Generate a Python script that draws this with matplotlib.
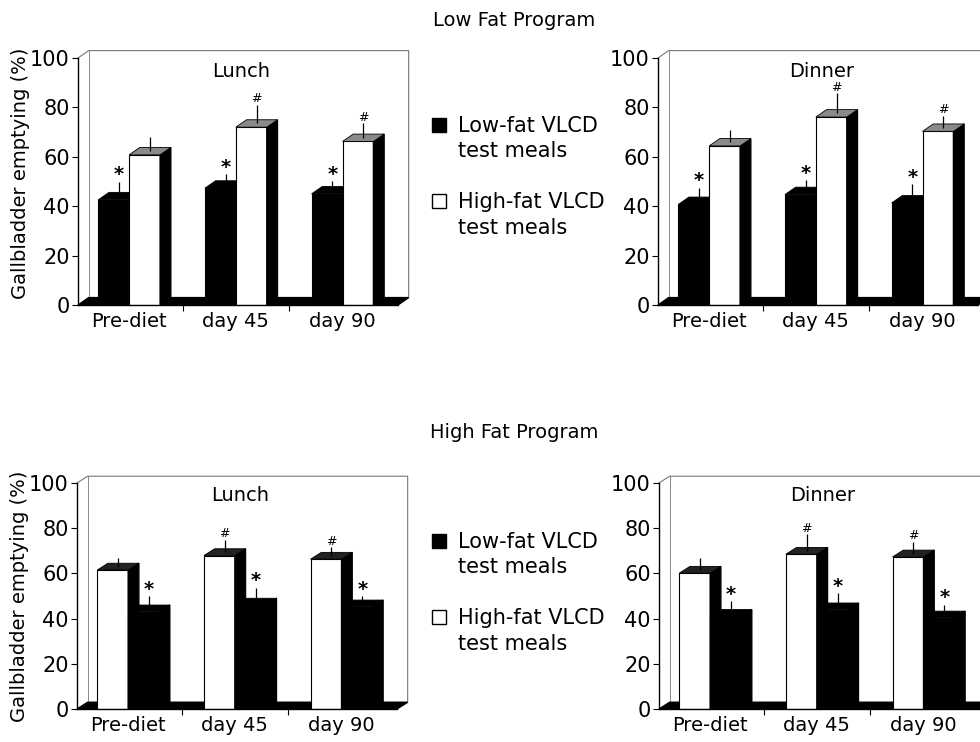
import matplotlib
matplotlib.use('Agg')
import matplotlib.pyplot as plt
from matplotlib.patches import Patch

# data (gallbladder emptying, %)
categories = ['Pre-diet', 'day 45', 'day 90']

# Low fat program (left bar = low-fat meal, right bar = high-fat meal)
lowprog_lunch_lowfat = [42.6, 47.3, 45.0]
lowprog_lunch_lowfat_err = [5.9, 4.3, 3.8]
lowprog_lunch_highfat = [60.8, 72.0, 66.2]
lowprog_lunch_highfat_err = [5.7, 7.6, 5.9]

lowprog_dinner_lowfat = [40.7, 44.7, 41.3]
lowprog_dinner_lowfat_err = [5.3, 4.3, 6.2]
lowprog_dinner_highfat = [64.4, 76.1, 70.3]
lowprog_dinner_highfat_err = [4.8, 8.3, 4.9]

# High fat program (left bar = high-fat meal, right bar = low-fat meal)
highprog_lunch_highfat = [61.5, 67.9, 66.3]
highprog_lunch_highfat_err = [3.6, 5.6, 3.7]
highprog_lunch_lowfat = [43.0, 46.0, 45.2]
highprog_lunch_lowfat_err = [5.6, 6.2, 3.3]

highprog_dinner_highfat = [60.1, 68.5, 67.3]
highprog_dinner_highfat_err = [5.1, 7.4, 5.2]
highprog_dinner_lowfat = [41.0, 43.9, 40.3]
highprog_dinner_lowfat_err = [5.3, 5.9, 4.4]

# significance marks: '*' vs other meal, '#' vs pre-diet
marks_lowfat = ['*', '*', '*']
marks_highfat = ['', '#', '#']

W = 0.29      # bar width
DX = 0.10     # fake depth, x
DY = 3.0      # fake depth, y
XMIN, XMAX = -0.48, 2.52


def draw_bar(ax, x0, v, err, face, topface, mark):
    ax.bar([x0], [v], width=W, align='edge', color=face, edgecolor='black', linewidth=0.8, zorder=2)
    x1 = x0 + W
    # side face
    ax.fill([x1, x1 + DX, x1 + DX, x1], [0, DY, v + DY, v], color='black', zorder=2, clip_on=False)
    # top face
    ax.fill([x0, x0 + DX, x1 + DX, x1], [v, v + DY, v + DY, v], facecolor=topface,
            edgecolor='black', linewidth=0.6, zorder=2, clip_on=False)
    xe = x0 + W / 2 + DX / 2
    ax.vlines(xe, v + DY / 2, v + DY / 2 + err, color='black', linewidth=0.9, zorder=3, clip_on=False)
    if mark == '*':
        ax.annotate('*', (xe, v + DY / 2 + err), xytext=(0, -2), textcoords='offset points',
                    ha='center', va='bottom', fontsize=14, fontweight='bold', annotation_clip=False)
    elif mark == '#':
        ax.annotate('#', (xe, v + DY / 2 + err), xytext=(0, -0.5), textcoords='offset points',
                    ha='center', va='bottom', fontsize=9, annotation_clip=False)


def panel(ax, first, first_err, first_col, first_marks, second, second_err, second_col, second_marks,
          title, topcol):
    ax.set_xlim(XMIN, XMAX)
    ax.set_ylim(0, 100)
    # floor
    ax.fill([XMIN, XMAX, XMAX + DX, XMIN + DX], [0, 0, DY, DY], color='black', zorder=1, clip_on=False)
    # back wall
    wall = '#777777'
    ax.plot([XMIN, XMIN + DX, XMAX + DX, XMAX + DX], [100, 100 + DY, 100 + DY, DY],
            color=wall, linewidth=0.8, clip_on=False, zorder=0.5)
    ax.plot([XMIN + DX, XMIN + DX], [DY, 100 + DY], color=wall, linewidth=0.6, clip_on=False, zorder=0.5)
    for i in range(len(categories)):
        tf1 = topcol if first_col == 'white' else 'black'
        tf2 = topcol if second_col == 'white' else 'black'
        draw_bar(ax, i - W, first[i], first_err[i], first_col, tf1, first_marks[i])
        draw_bar(ax, i, second[i], second_err[i], second_col, tf2, second_marks[i])
    for s in ['top', 'right']:
        ax.spines[s].set_visible(False)
    ax.spines['left'].set_linewidth(1.0)
    ax.spines['bottom'].set_linewidth(1.0)
    ax.set_yticks(range(0, 101, 20))
    ax.tick_params(axis='y', length=4, width=0.8, labelsize=15, pad=2)
    ax.set_xticks(range(len(categories)))
    ax.set_xticklabels(categories)
    ax.set_xticks([0.5, 1.5], minor=True)
    ax.tick_params(axis='x', which='major', length=0, labelsize=14, pad=5)
    ax.tick_params(axis='x', which='minor', length=4, width=0.8)
    ax.text(0.51, 0.945, title, transform=ax.transAxes, ha='center', va='center', fontsize=14)
    ax.patch.set_visible(False)


fig = plt.figure(figsize=(9.8, 7.42), dpi=100)

ax_tl = fig.add_axes([78 / 980, 1 - 305 / 742, 320 / 980, 247 / 742])
ax_tr = fig.add_axes([658 / 980, 1 - 305 / 742, 320 / 980, 247 / 742])
ax_bl = fig.add_axes([77 / 980, 1 - 709 / 742, 320 / 980, 226 / 742])
ax_br = fig.add_axes([659 / 980, 1 - 709 / 742, 320 / 980, 226 / 742])

panel(ax_tl, lowprog_lunch_lowfat, lowprog_lunch_lowfat_err, 'black', marks_lowfat,
      lowprog_lunch_highfat, lowprog_lunch_highfat_err, 'white', marks_highfat, 'Lunch', '#8a8a8a')
panel(ax_tr, lowprog_dinner_lowfat, lowprog_dinner_lowfat_err, 'black', marks_lowfat,
      lowprog_dinner_highfat, lowprog_dinner_highfat_err, 'white', marks_highfat, 'Dinner', '#8a8a8a')
panel(ax_bl, highprog_lunch_highfat, highprog_lunch_highfat_err, 'white', marks_highfat,
      highprog_lunch_lowfat, highprog_lunch_lowfat_err, 'black', marks_lowfat, 'Lunch', '#222222')
panel(ax_br, highprog_dinner_highfat, highprog_dinner_highfat_err, 'white', marks_highfat,
      highprog_dinner_lowfat, highprog_dinner_lowfat_err, 'black', marks_lowfat, 'Dinner', '#222222')

ax_tl.set_ylabel('Gallbladder emptying (%)', fontsize=14)
ax_tl.yaxis.set_label_coords(-0.15, 0.535)
ax_bl.set_ylabel('Gallbladder emptying (%)', fontsize=14)
ax_bl.yaxis.set_label_coords(-0.15, 0.5)

fig.text(514 / 980, 1 - 20 / 742, 'Low Fat Program', ha='center', va='center', fontsize=14)
fig.text(514 / 980, 1 - 433 / 742, 'High Fat Program', ha='center', va='center', fontsize=14)

blank = Patch(facecolor='none', edgecolor='none')
handles = [Patch(facecolor='black', edgecolor='black'), blank, blank,
           Patch(facecolor='white', edgecolor='black'), blank]
labels = ['Low-fat VLCD', 'test meals', '', 'High-fat VLCD', 'test meals']
for top in (116, 532):
    fig.legend(handles, labels, loc='upper left', bbox_to_anchor=(432 / 980, 1 - top / 742),
               frameon=False, fontsize=15, handlelength=0.65, handleheight=0.65,
               handletextpad=0.6, labelspacing=0.26, borderpad=0, borderaxespad=0)

fig.savefig('out.png', dpi=100)
